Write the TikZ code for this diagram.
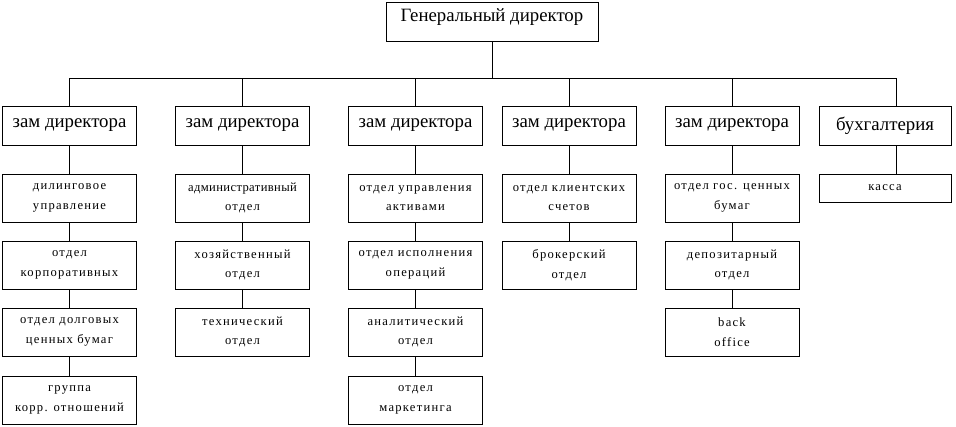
\documentclass[tikz,border=0pt]{standalone}
\usepackage{fontspec}
\setmainfont{Liberation Serif}
\newfontfamily\otdfont[LetterSpace=10]{Liberation Serif}
\newfontfamily\otdtight[LetterSpace=3]{Liberation Serif}

\begin{document}
\begin{tikzpicture}[
    x=1pt, y=-1pt,
    line width=0.8pt,
    chief/.style={draw, minimum width=134pt, minimum height=39pt, inner sep=0pt,
        font=\fontsize{18.8}{21}\selectfont},
    dept/.style={draw, minimum width=134pt, minimum height=48pt, inner sep=0pt,
        align=center, font=\otdfont\fontsize{12.6}{19.5}\selectfont}
    ]
    \useasboundingbox (0,0) rectangle (956,427);
    % top
    \node[chief, minimum width=212pt, text depth=12pt] (gd) at (492,21.5) {Генеральный директор};
    \node[chief] (z1) at (69.5,125.5) {зам директора};
    \node[chief] (z2) at (242.5,125.5) {зам директора};
    \node[chief] (z3) at (415.5,125.5) {зам директора};
    \node[chief] (z4) at (569,125.5) {зам директора};
    \node[chief] (z5) at (732,125.5) {зам директора};
    \node[chief, minimum width=132pt] (bux) at (885,125.5) {бухгалтерия};
    % column 1
    \node[dept] (dil) at (69.5,198) {дилинговое\\управление};
    \node[dept] (korp) at (69.5,265) {отдел\\корпоративных};
    \node[dept] (dolg) at (69.5,332) {отдел долговых\\ценных бумаг};
    \node[dept] (grp) at (69.5,400) {группа\\корр. отношений};
    % column 2
    \node[dept] (adm) at (242.5,198) {{\otdtight административный}\\отдел};
    \node[dept] (hoz) at (242.5,265) {хозяйственный\\отдел};
    \node[dept] (teh) at (242.5,332) {технический\\отдел};
    % column 3
    \node[dept] (akt) at (415.5,198) {отдел управления\\активами};
    \node[dept] (isp) at (415.5,265) {отдел исполнения\\операций};
    \node[dept] (anl) at (415.5,332) {аналитический\\отдел};
    \node[dept] (mrk) at (415.5,400) {отдел\\маркетинга};
    % column 4
    \node[dept] (kli) at (569,198) {отдел клиентских\\счетов};
    \node[dept] (brk) at (569,265) {брокерский\\отдел};
    % column 5
    \node[dept] (gos) at (732,198) {отдел гос. ценных\\бумаг};
    \node[dept] (dep) at (732,265) {депозитарный\\отдел};
    \node[dept] (bko) at (732,332) {back\\office};
    % column 6
    \node[dept, minimum width=132pt, minimum height=28pt] (ks) at (885,188) {касса};

    % bus
    \coordinate (bus) at (492,78);
    \draw (gd) -- (bus);
    \draw (z1.north) |- ([xshift=11pt]bux.north |- bus) -- ([xshift=11pt]bux.north);
    \foreach \z in {z2,z3,z4,z5}
        \draw (\z.north) -- (\z.north |- bus);
    % columns
    \draw (z1) -- (dil) -- (korp) -- (dolg) -- (grp);
    \draw (z2) -- (adm) -- (hoz) -- (teh);
    \draw (z3) -- (akt) -- (isp) -- (anl) -- (mrk);
    \draw (z4) -- (kli) -- (brk);
    \draw (z5) -- (gos) -- (dep) -- (bko);
    \draw ([xshift=11pt]bux.south) -- ([xshift=11pt]ks.north);
\end{tikzpicture}
\end{document}
